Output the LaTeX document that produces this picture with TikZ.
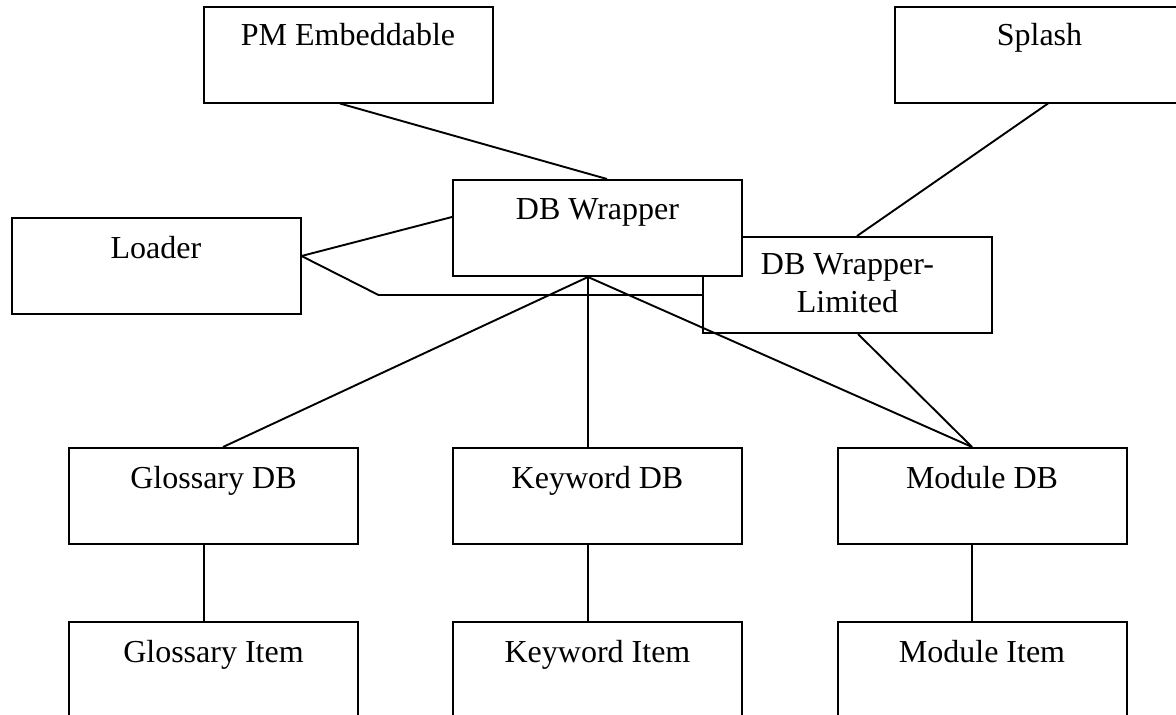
\documentclass[tikz,border=0pt]{standalone}
\usepackage{fontspec}
\setmainfont{Liberation Serif}
\usetikzlibrary{calc}
\begin{document}
\begin{tikzpicture}[x=1pt,y=-1pt,
  box/.style={draw, line width=2pt, fill=white, minimum width=289pt, minimum height=96pt, inner sep=0pt},
  lbl/.style={anchor=base, font=\fontsize{32}{38}\selectfont, inner sep=0pt},
  conn/.style={line width=1.9pt}]
\fill[white] (0,0) rectangle (1176,715);
\useasboundingbox (0,0) rectangle (1176,715);
\clip (0,0) rectangle (1176,715);

% boxes
\node[box] (pm) at (348,54.5) {};
\node[box] (splash) at (1039.5,54.5) {};
\node[box] (loader) at (156,266) {};
\node[box] (lim) at (847.5,285) {};
\node[box] (dbw) at (597.5,228) {};
\node[box] (glossdb) at (213.5,496) {};
\node[box] (keydb) at (597.5,496) {};
\node[box] (moddb) at (982,496) {};
\node[box] (glossitem) at (213.5,670) {};
\node[box] (keyitem) at (597.5,670) {};
\node[box] (moditem) at (982,670) {};

% labels
\node[lbl] (tpm) at ($(pm.north)+(0,40)$) {PM Embeddable};
\node[lbl] (tsplash) at ($(splash.north)+(0,40)$) {Splash};
\node[lbl] (tloader) at ($(loader.north)+(0,41)$) {Loader};
\node[lbl] (tdbw) at ($(dbw.north)+(0,40)$) {DB Wrapper};
\node[lbl] (tlimA) at ($(lim.north)+(0,38)$) {DB Wrapper-};
\node[lbl] (tlimB) at ($(lim.north)+(0,76)$) {Limited};
\node[lbl] (tglossdb) at ($(glossdb.north)+(0,41)$) {Glossary DB};
\node[lbl] (tkeydb) at ($(keydb.north)+(0,41)$) {Keyword DB};
\node[lbl] (tmoddb) at ($(moddb.north)+(0,41)$) {Module DB};
\node[lbl] (tglossitem) at ($(glossitem.north)+(0,41)$) {Glossary Item};
\node[lbl] (tkeyitem) at ($(keyitem.north)+(0,41)$) {Keyword Item};
\node[lbl] (tmoditem) at ($(moditem.north)+(0,41)$) {Module Item};

% connection points
\coordinate (dbwb) at ($(dbw.south)+(-9.5,0)$);
\coordinate (lpt) at ($(loader.east)+(0,-10)$);
\coordinate (bend) at ($(loader.east)+(77,29)$);
\coordinate (modtop) at ($(moddb.north)+(-10,0)$);

% connectors
\draw[conn] ($(pm.south)+(-8,0)$) -- ($(dbw.north)+(9.5,0)$);
\draw[conn] ($(splash.south)+(8.5,0)$) -- ($(lim.north)+(9.5,0)$);
\draw[conn] (lpt) -- ($(dbw.north west)+(0,38)$);
\draw[conn] (lpt) -- (bend) -- (bend -| lim.west);
\draw[conn] (dbwb) -- ($(glossdb.north)+(9.5,0)$);
\draw[conn] (dbwb) -- ($(keydb.north)+(-9.5,0)$);
\draw[conn] (dbwb) -- (modtop);
\draw[conn] ($(lim.south)+(10.5,0)$) -- (modtop);
\draw[conn] ($(glossdb.south)+(-9.5,0)$) -- ($(glossitem.north)+(-9.5,0)$);
\draw[conn] ($(keydb.south)+(-9.5,0)$) -- ($(keyitem.north)+(-9.5,0)$);
\draw[conn] ($(moddb.south)+(-10,0)$) -- ($(moditem.north)+(-10,0)$);
\end{tikzpicture}
\end{document}
